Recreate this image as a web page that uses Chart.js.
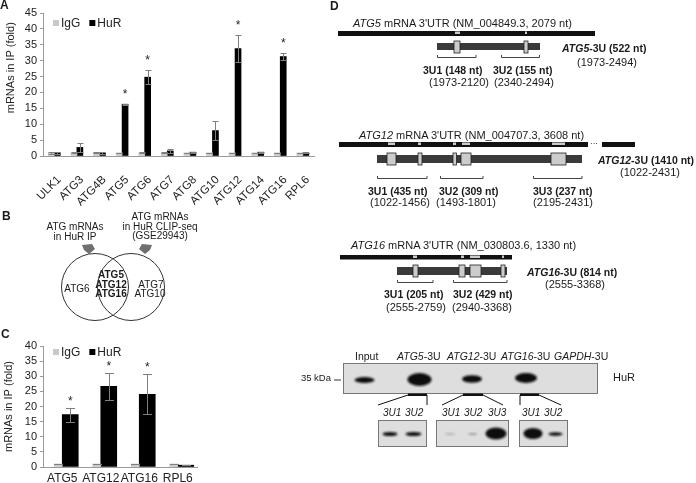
<!DOCTYPE html>
<html>
<head>
<meta charset="utf-8">
<script src="https://cdn.jsdelivr.net/npm/chart.js@4.4.1/dist/chart.umd.min.js"></script>
<style>
    body { margin: 0; background: #fff; width: 696px; height: 483px; overflow: hidden; position: relative; font-family: 'Liberation Sans', Arial, sans-serif; }
    .box { position: absolute; }
    svg { position: absolute; left: 0; top: 0; pointer-events: none; }
    .b { font-weight: bold; }
    .i { font-style: italic; }
</style>
</head>
<body>
<div class="box" style="left:0;top:0;width:330px;height:215px"><canvas id="chartA"></canvas></div>
<div class="box" style="left:0;top:330px;width:210px;height:153px"><canvas id="chartC"></canvas></div>

<svg width="696" height="483" font-family="Liberation Sans, Arial, sans-serif" fill="#1a1a1a">
    <!-- panel letters -->
    <text x="0" y="9" font-size="12" class="b">A</text>
    <text x="2" y="220" font-size="12" class="b">B</text>
    <text x="1" y="338" font-size="12" class="b">C</text>
    <text x="330" y="10" font-size="12" class="b">D</text>

    <!-- B: venn -->
    <g font-size="10" text-anchor="middle">
        <text x="75" y="230">ATG mRNAs</text>
        <text x="75" y="239.5">in HuR IP</text>
        <text x="160" y="220">ATG mRNAs</text>
        <text x="160" y="229.5">in HuR CLIP-seq</text>
        <text x="160" y="239">(GSE29943)</text>
        <text x="77" y="292">ATG6</text>
        <text x="111" y="278" class="b">ATG5</text>
        <text x="111" y="287.5" class="b">ATG12</text>
        <text x="111" y="297" class="b">ATG16</text>
        <text x="151" y="287.5">ATG7</text>
        <text x="150" y="297">ATG10</text>
    </g>
    <polygon points="82,245 92,244 95,249 89,254 84,250" fill="#6f6f6f"/>
    <polygon points="142,244 152,245 150,250 145,254 139,249" fill="#6f6f6f"/>
    <circle cx="95" cy="287" r="33.5" fill="none" stroke="#333" stroke-width="1"/>
    <circle cx="131" cy="287" r="33.5" fill="none" stroke="#333" stroke-width="1"/>

    <!-- D: ATG5 -->
    <g font-size="11">
        <text x="353" y="27"><tspan class="i">ATG5</tspan> mRNA 3'UTR (NM_004849.3, 2079 nt)</text>
        <rect x="338" y="31" width="257" height="5" fill="#111"/>
        <rect x="455" y="31.5" width="5" height="2.5" fill="#ccc"/>
        <rect x="525" y="31.5" width="2" height="2.5" fill="#ccc"/>
        <rect x="437" y="43" width="103" height="7" fill="#3a3a3a"/>
        <rect x="454" y="41" width="6" height="12" fill="#ccc" stroke="#222" stroke-width="0.8"/>
        <rect x="524" y="41" width="4" height="12" fill="#ccc" stroke="#222" stroke-width="0.8"/>
        <path d="M437.5 55 V57.5 H476 V55 M501.5 55 V57.5 H539.5 V55" fill="none" stroke="#444"/>
        <text x="562" y="52" class="b" font-size="10.5"><tspan class="i">ATG5</tspan>-3U (522 nt)</text>
        <text x="577" y="66">(1973-2494)</text>
        <text x="423" y="74" class="b" font-size="10.5">3U1 (148 nt)</text>
        <text x="493" y="74" class="b" font-size="10.5">3U2 (155 nt)</text>
        <text x="429" y="86">(1973-2120)</text>
        <text x="494" y="86">(2340-2494)</text>
    </g>

    <!-- D: ATG12 -->
    <g font-size="11">
        <text x="359" y="139"><tspan class="i">ATG12</tspan> mRNA 3'UTR (NM_004707.3, 3608 nt)</text>
        <rect x="339" y="142" width="249" height="5" fill="#111"/>
        <text x="590" y="146" font-size="8">···</text>
        <rect x="602" y="142" width="33" height="5" fill="#111"/>
        <rect x="388" y="142.5" width="7" height="2.5" fill="#ccc"/>
        <rect x="418" y="142.5" width="3" height="2.5" fill="#ccc"/>
        <rect x="453" y="142.5" width="3" height="2.5" fill="#ccc"/>
        <rect x="462" y="142.5" width="8" height="2.5" fill="#ccc"/>
        <rect x="552" y="142.5" width="13" height="2.5" fill="#ccc"/>
        <rect x="377" y="155" width="205" height="8" fill="#3a3a3a"/>
        <rect x="387" y="153" width="9" height="12" fill="#ccc" stroke="#222" stroke-width="0.8"/>
        <rect x="418" y="153" width="4" height="12" fill="#ccc" stroke="#222" stroke-width="0.8"/>
        <rect x="453" y="153" width="3.5" height="12" fill="#ccc" stroke="#222" stroke-width="0.8"/>
        <rect x="461" y="153" width="10" height="12" fill="#ccc" stroke="#222" stroke-width="0.8"/>
        <rect x="551" y="153" width="15" height="12" fill="#ccc" stroke="#222" stroke-width="0.8"/>
        <path d="M377.5 176 V178.5 H427 V176 M440.5 176 V178.5 H483 V176 M533.5 176 V178.5 H582 V176" fill="none" stroke="#444"/>
        <text x="598" y="164" class="b" font-size="10.5"><tspan class="i">ATG12</tspan>-3U (1410 nt)</text>
        <text x="620" y="176">(1022-2431)</text>
        <text x="368" y="195" class="b" font-size="10.5">3U1 (435 nt)</text>
        <text x="439" y="195" class="b" font-size="10.5">3U2 (309 nt)</text>
        <text x="533" y="195" class="b" font-size="10.5">3U3 (237 nt)</text>
        <text x="370" y="206">(1022-1456)</text>
        <text x="436" y="206">(1493-1801)</text>
        <text x="533" y="206">(2195-2431)</text>
    </g>

    <!-- D: ATG16 -->
    <g font-size="11">
        <text x="351" y="249"><tspan class="i">ATG16</tspan> mRNA 3'UTR (NM_030803.6, 1330 nt)</text>
        <rect x="340" y="255" width="172" height="4.5" fill="#111"/>
        <rect x="413" y="255.5" width="4" height="2.5" fill="#ccc"/>
        <rect x="461" y="255.5" width="3" height="2.5" fill="#ccc"/>
        <rect x="470" y="255.5" width="10" height="2.5" fill="#ccc"/>
        <rect x="502" y="255.5" width="2" height="2.5" fill="#ccc"/>
        <rect x="397" y="267" width="110" height="8" fill="#3a3a3a"/>
        <rect x="413" y="265" width="5" height="12" fill="#ccc" stroke="#222" stroke-width="0.8"/>
        <rect x="459" y="265" width="6" height="12" fill="#ccc" stroke="#222" stroke-width="0.8"/>
        <rect x="470" y="265" width="11" height="12" fill="#ccc" stroke="#222" stroke-width="0.8"/>
        <rect x="501" y="265" width="4" height="12" fill="#ccc" stroke="#222" stroke-width="0.8"/>
        <path d="M397.5 280 V282.5 H433 V280 M453.5 280 V282.5 H507 V280" fill="none" stroke="#444"/>
        <text x="527" y="276" class="b" font-size="10.5"><tspan class="i">ATG16</tspan>-3U (814 nt)</text>
        <text x="545" y="288">(2555-3368)</text>
        <text x="384" y="298" class="b" font-size="10.5">3U1 (205 nt)</text>
        <text x="453" y="298" class="b" font-size="10.5">3U2 (429 nt)</text>
        <text x="386" y="311">(2555-2759)</text>
        <text x="452" y="311">(2940-3368)</text>
    </g>

    <!-- D: blot -->
    <defs>
        <filter id="blur" x="-50%" y="-50%" width="200%" height="200%"><feGaussianBlur stdDeviation="1.1"/></filter>
    </defs>
    <g font-size="10.5">
        <text x="355" y="360">Input</text>
        <text x="397" y="360"><tspan class="i">ATG5</tspan>-3U</text>
        <text x="447" y="360"><tspan class="i">ATG12</tspan>-3U</text>
        <text x="501" y="360"><tspan class="i">ATG16</tspan>-3U</text>
        <text x="554" y="360"><tspan class="i">GAPDH</tspan>-3U</text>
    </g>
    <text x="613" y="381" font-size="11">HuR</text>
    <text x="331" y="381" font-size="9.5" text-anchor="end">35 kDa</text>
    <line x1="334" y1="380" x2="341" y2="380" stroke="#333"/>
    <rect x="343.5" y="363.5" width="254" height="30" fill="#dedede" stroke="#777"/>
    <g fill="#111" filter="url(#blur)">
        <ellipse cx="364.5" cy="380" rx="10" ry="3"/>
        <ellipse cx="419.5" cy="379.5" rx="12" ry="6.5"/>
        <ellipse cx="472" cy="379" rx="10" ry="3.8"/>
        <ellipse cx="526" cy="378" rx="11" ry="5"/>
    </g>
    <g stroke="#111" fill="none">
        <line x1="408" y1="395" x2="378" y2="405"/><line x1="427" y1="395" x2="427" y2="405"/>
        <line x1="463" y1="395" x2="442" y2="405"/><line x1="483" y1="395" x2="503" y2="405"/>
        <line x1="520" y1="395" x2="520" y2="405"/><line x1="539" y1="395" x2="561" y2="405"/>
    </g>
    <rect x="408" y="393.5" width="19" height="2.5" fill="#111"/>
    <rect x="463" y="393.5" width="20" height="2.5" fill="#111"/>
    <rect x="520" y="393.5" width="19" height="2.5" fill="#111"/>
    <g font-size="10" class="i">
        <text x="383" y="416">3U1</text><text x="405" y="416">3U2</text>
        <text x="442" y="416">3U1</text><text x="464" y="416">3U2</text><text x="488" y="416">3U3</text>
        <text x="522" y="416">3U1</text><text x="544" y="416">3U2</text>
    </g>
    <rect x="378.5" y="420.5" width="48" height="26" fill="#dedede" stroke="#777"/>
    <rect x="436.5" y="420.5" width="72" height="26" fill="#dedede" stroke="#777"/>
    <rect x="519.5" y="420.5" width="48" height="26" fill="#dedede" stroke="#777"/>
    <g fill="#111" filter="url(#blur)">
        <ellipse cx="390" cy="434" rx="7.5" ry="2"/>
        <ellipse cx="413.5" cy="434" rx="8" ry="2"/>
        <ellipse cx="450" cy="434" rx="5" ry="1" opacity="0.2"/>
        <ellipse cx="472.5" cy="434" rx="4.5" ry="1" opacity="0.3"/>
        <ellipse cx="496" cy="433.5" rx="10.5" ry="6"/>
        <ellipse cx="533" cy="433.5" rx="9.5" ry="5.5"/>
        <ellipse cx="555.5" cy="434" rx="7" ry="1.8"/>
    </g>
</svg>

<script>
// panel A: ATG mRNAs in HuR IP
const categoriesA = ['ULK1', 'ATG3', 'ATG4B', 'ATG5', 'ATG6', 'ATG7', 'ATG8', 'ATG10', 'ATG12', 'ATG14', 'ATG16', 'RPL6'];
const iggA = [1, 1, 1, 1, 1, 1, 1, 1, 1, 1, 1, 1];
const iggErrA = [0.3, 0.15, 0.2, 0.1, 0.15, 0.2, 0.1, 0.1, 0.1, 0.1, 0.1, 0.1];
const hurA = [1.0, 2.7, 0.9, 16.3, 24.8, 1.6, 1.2, 8.0, 33.8, 1.2, 31.3, 1.0];
const hurErrA = [0.4, 1.3, 0.3, 0.2, 2.2, 0.6, 0.1, 3.0, 4.3, 0.1, 1.1, 0.1];
const starsA = [false, false, false, true, true, false, false, false, true, false, true, false];
const ticksA = [0, 5, 10, 15, 20, 25, 30, 35, 40, 45];

// panel C: selected mRNAs
const categoriesC = ['ATG5', 'ATG12', 'ATG16', 'RPL6'];
const iggC = [1, 1, 1, 1];
const iggErrC = [0.15, 0.15, 0.15, 0.15];
const hurC = [17.3, 26.7, 24.0, 0.6];
const hurErrC = [2.3, 4.4, 6.6, 0.1];
const starsC = [true, true, true, false];
const ticksC = [0, 5, 10, 15, 20, 25, 30, 35, 40];

const FONT = "'Liberation Sans', Arial, sans-serif";

const errorBars = {
    id: 'errorBars',
    afterDatasetsDraw(chart, args, opts) {
        const ctx = chart.ctx;
        const y = chart.scales.y;
        ctx.save();
        ctx.strokeStyle = '#7f7f7f';
        ctx.lineWidth = 1;
        chart.data.datasets.forEach((ds, di) => {
            chart.getDatasetMeta(di).data.forEach((bar, i) => {
                const v = ds.data[i], e = ds.errors[i];
                const x = Math.round(bar.x) + 0.5;
                const yt = Math.round(y.getPixelForValue(v + e)) + 0.5;
                const yb = Math.round(y.getPixelForValue(Math.max(0, v - e))) + 0.5;
                ctx.beginPath();
                ctx.moveTo(x, yt); ctx.lineTo(x, yb);
                ctx.moveTo(x - opts.cap, yt); ctx.lineTo(x + opts.cap, yt);
                ctx.moveTo(x - opts.cap, yb); ctx.lineTo(x + opts.cap, yb);
                ctx.stroke();
            });
        });
        ctx.restore();
    }
};

const stars = {
    id: 'stars',
    afterDatasetsDraw(chart, args, opts) {
        const ctx = chart.ctx;
        const y = chart.scales.y;
        ctx.save();
        ctx.fillStyle = '#222';
        ctx.font = '12px ' + FONT;
        ctx.textAlign = 'center';
        chart.data.datasets.forEach((ds, di) => {
            if (!ds.stars) return;
            chart.getDatasetMeta(di).data.forEach((bar, i) => {
                if (!ds.stars[i]) return;
                const top = y.getPixelForValue(ds.data[i] + ds.errors[i]);
                ctx.fillText('*', bar.x, top - opts.gap);
            });
        });
        ctx.restore();
    }
};

const boxLegend = {
    id: 'boxLegend',
    afterDraw(chart, args, opts) {
        const ctx = chart.ctx;
        const area = chart.chartArea;
        let x = area.left + opts.dx;
        const cy = area.top + opts.dy;
        ctx.save();
        ctx.font = '12px ' + FONT;
        ctx.textBaseline = 'middle';
        chart.data.datasets.forEach(ds => {
            ctx.fillStyle = ds.backgroundColor;
            ctx.fillRect(x, cy - 3, 6, 6);
            ctx.fillStyle = '#222';
            ctx.fillText(ds.label, x + 8, cy + 0.5);
            x += 8 + ctx.measureText(ds.label).width + 9;
        });
        ctx.restore();
    }
};

function makeChart(id, cats, igg, iggErr, hur, hurErr, hurStars, ticks, o) {
    const ctx = document.getElementById(id).getContext('2d');
    return new Chart(ctx, {
        type: 'bar',
        data: {
            labels: cats,
            datasets: [{
                label: 'IgG',
                data: igg,
                errors: iggErr,
                backgroundColor: '#c9c9c9',
                barThickness: o.iggWidth
            }, {
                label: 'HuR',
                data: hur,
                errors: hurErr,
                stars: hurStars,
                backgroundColor: '#000000',
                barThickness: o.hurWidth
            }]
        },
        options: {
            responsive: true,
            maintainAspectRatio: false,
            animation: false,
            categoryPercentage: o.catPct,
            layout: {
                padding: {top: o.top, right: o.right, left: 0, bottom: 0}
            },
            scales: {
                x: {
                    grid: {display: false, drawTicks: false},
                    border: {display: true, color: '#9a9a9a'},
                    ticks: {
                        color: '#222',
                        font: {family: FONT, size: o.catFont},
                        autoSkip: false,
                        minRotation: o.rot,
                        maxRotation: o.rot,
                        padding: o.xPad,
                        labelOffset: o.xShift
                    },
                    afterFit: s => { s.height = o.xHeight; }
                },
                y: {
                    min: 0,
                    max: ticks[ticks.length - 1],
                    afterBuildTicks: s => { s.ticks = ticks.map(v => ({value: v})); },
                    grid: {display: true, drawOnChartArea: false, tickLength: 3, color: '#9a9a9a'},
                    border: {display: true, color: '#9a9a9a'},
                    ticks: {color: '#222', font: {family: FONT, size: 11}, padding: 3, autoSkip: false},
                    title: {
                        display: true,
                        text: 'mRNAs in IP (fold)' + o.titleTail,
                        align: o.titleAlign,
                        color: '#222',
                        font: {family: FONT, size: 11},
                        padding: {top: o.titlePad, bottom: 0}
                    },
                    afterFit: s => { s.width = 43; }
                }
            },
            plugins: {
                legend: {display: false},
                tooltip: {enabled: false},
                errorBars: {cap: o.cap},
                stars: {gap: o.starGap},
                boxLegend: {dx: 10, dy: o.legendDy}
            }
        },
        plugins: [errorBars, stars, boxLegend]
    });
}

makeChart('chartA', categoriesA, iggA, iggErrA, hurA, hurErrA, starsA, ticksA, {
    iggWidth: 6, hurWidth: 6, catPct: 0.62, top: 13, right: 10,
    catFont: 11.5, rot: 45, xPad: 17, xShift: 5, xHeight: 59, cap: 3, starGap: 6, legendDy: 10,
    titlePad: 4, titleAlign: 'end', titleTail: '   '
});

makeChart('chartC', categoriesC, iggC, iggErrC, hurC, hurErrC, starsC, ticksC, {
    iggWidth: 8, hurWidth: 16, catPct: 0.86, top: 16, right: 13,
    catFont: 12, rot: 0, xPad: 4, xShift: 0, xHeight: 16, cap: 4.5, starGap: 3, legendDy: 6,
    titlePad: 2, titleAlign: 'center', titleTail: ''
});
</script>
</body>
</html>
